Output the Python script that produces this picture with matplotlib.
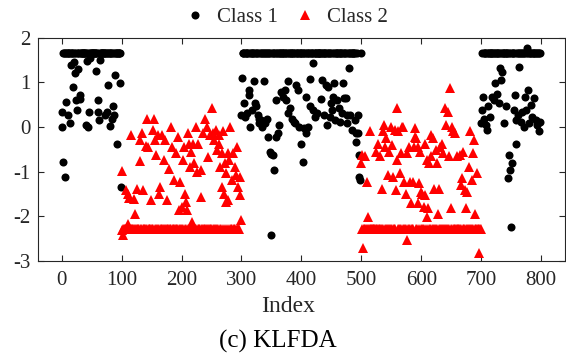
import numpy as np
import matplotlib
matplotlib.use('Agg')
import matplotlib.pyplot as plt

plt.rcParams['font.family'] = ['Liberation Serif', 'DejaVu Serif']
plt.rcParams['axes.unicode_minus'] = False

# index ranges that belong to each class
class1_ranges = [(0, 100), (300, 500), (700, 800)]
class2_ranges = [(100, 300), (500, 700)]
# value where most points of a class pile up
class1_level = 1.65
class2_level = -2.28

# points that lie off the plateau
class1_idx = [0, 1, 2, 5, 7, 10, 14, 16, 19, 21, 22, 24, 26, 28, 30, 31, 40, 43, 44, 46,
              47, 57, 60, 61, 62, 64, 73, 76, 78, 81, 84, 86, 87, 89, 92, 98, 99,
              300, 301, 304, 306, 309, 312, 313, 315, 318, 321, 322, 325, 327, 329, 330, 333,
              335, 337, 339, 342, 345, 347, 349, 350, 352, 355, 357, 358, 361, 363, 366, 369,
              372, 375, 377, 378, 381, 384, 387, 390, 391, 395, 396, 399, 402, 404, 407, 408,
              411, 414, 415, 419, 420, 423, 426, 432, 435, 437, 441, 443, 445, 447, 449, 451,
              453, 455, 456, 459, 462, 465, 468, 470, 471, 474, 476, 477, 479, 482, 485, 489,
              491, 492, 494, 495, 496, 497, 498,
              700, 701, 703, 705, 708, 709, 712, 715, 718, 721, 724, 726, 730, 732, 734, 735,
              739, 742, 745, 746, 748, 750, 751, 755, 757, 758, 759, 762, 764, 767, 769, 771,
              773, 775, 776, 779, 780, 783, 785, 788, 791, 794, 796, 798]
class1_val = [0.0, 0.34, -0.79, -1.11, 0.55, 0.27, 0.1, 1.39, 0.9, 1.46, 1.2, 0.6, 0.38, 1.31,
              0.62, 0.72, 0.05, 1.48, -0.01, 0.34, 1.54, 1.26, 0.6, 0.34, 0.16, 1.5, 0.27, 0.33,
              0.94, 0.02, 0.19, 0.46, 0.27, 1.17, -0.37, 0.98, -1.35,
              0.27, 1.09, 0.53, 0.23, 0.31, 0.72, 0.83, 0.0, 0.38, 1.02, 0.53, 0.46, 0.27, 0.19,
              0.08, 0.16, 0.0, 1.02, 0.08, 0.19, -0.22, -0.55, -0.6, -2.42, -0.63, -0.96, 0.61,
              -0.22, -0.14, 0.04, 0.79, 0.68, 0.83, 0.61, 1.02, 0.31, 0.42, 0.19, 0.12, 0.08,
              0.94, 0.83, 0.0, -0.37, -0.78, -0.03, -0.14, 0.68, 0.0, 1.08, 0.47, 1.44, 0.38,
              0.23, 0.31, 0.63, 1.05, 0.27, 0.94, 0.04, 0.9, 0.23, 0.53, 0.38, 0.68, 0.98, 0.16,
              0.61, 0.42, 0.12, 0.31, 0.98, 0.64, 0.64, 0.27, 0.08, 1.32, 0.27, -0.07, 0.16,
              -0.14, -0.33, 0.27, -0.14, -0.63, -1.11, -1.19,
              0.08, 0.38, 0.68, 0.19, 0.04, -0.07, 0.46, 0.23, 0.68, 0.61, 0.98, 0.75, 0.53,
              1.32, 1.05, 1.24, 0.08, 0.46, -1.15, -0.63, -0.96, -2.24, -0.81, 0.38, 0.72,
              -0.37, 0.16, 0.27, 1.35, 0.12, 0.34, 0.0, 0.68, 0.38, 1.76, 0.83, 0.08, 0.49,
              0.23, 0.64, 0.16, 0.04, -0.1, 0.12]

class2_idx = [100, 101, 102, 107, 110, 111, 113, 116, 120, 122, 125, 130, 131, 134, 136, 140,
              142, 144, 149, 152, 154, 156, 158, 161, 162, 164, 167, 170, 173, 176, 179, 182,
              184, 188, 191, 194, 196, 198, 200, 203, 204, 206, 208, 209, 210, 212, 214, 216,
              218, 220, 221, 224, 226, 228, 232, 233, 236, 239, 242, 245, 247, 251, 252, 255,
              257, 259, 262, 263, 265, 267, 268, 270, 271, 273, 274, 275, 277, 278, 280, 281,
              284, 286, 289, 291, 293, 295, 297, 298, 299,
              500, 501, 503, 506, 510, 511, 515, 525, 528, 532, 535, 536, 538, 540, 542, 545,
              547, 550, 552, 553, 556, 558, 559, 560, 562, 564, 566, 568, 570, 572, 574, 576,
              577, 580, 582, 583, 586, 588, 589, 590, 592, 594, 595, 597, 598, 600, 602, 604,
              606, 607, 609, 610, 612, 613, 616, 617, 619, 622, 624, 626, 628, 630, 632, 634,
              637, 640, 642, 644, 646, 648, 649, 651, 653, 656, 659, 664, 666, 668, 670, 673,
              674, 676, 679, 682, 684, 687, 688, 690, 693, 696]
class2_val = [-0.98, -2.3, -2.42, -1.41, -1.49, -2.17, -1.6, -0.18, -1.61, -1.94, -1.39, -0.76,
              -0.29, -0.14, -1.4, -0.43, 0.19, -0.44, -1.64, -0.07, 0.19, -0.29, -0.63, -0.18,
              -1.49, -1.34, -0.18, -0.74, -0.29, -1.64, -0.93, 0.0, -0.44, -1.19, -0.59, -0.22,
              -1.86, -1.23, -1.79, -0.74, -0.44, -1.49, -1.67, -1.86, -0.14, -0.37, -0.89, -0.55,
              -2.12, -0.37, -0.81, 0.0, -1.0, -0.37, -0.96, -1.56, -0.14, 0.19, 0.0, -0.67,
              -0.18, 0.42, -0.14, -0.29, -0.07, -0.52, -0.18, -0.37, -0.89, -0.59, -1.34, -0.1,
              -1.49, -0.81, -1.67, -1.04, -0.59, -1.64, -0.74, 0.0, -1.19, -0.59, -0.89, -1.08,
              -0.44, -1.34, -1.52, -1.11, -2.09,
              -0.81, -0.63, -2.7, -0.66, -1.23, -2.01, -0.1, -0.55, -0.37, -0.65, -1.38, -0.1,
              0.04, -0.44, -0.25, -1.08, -0.55, 0.0, -0.4, -1.11, -0.07, -1.41, 0.42, -0.74,
              -0.1, -1.04, -0.59, 0.0, 0.0, -1.23, -1.49, -2.53, -0.59, -0.44, -1.23, -1.71,
              -1.23, -0.44, -0.22, -0.03, -0.25, -0.44, -1.71, -1.26, -0.55, -1.45, -1.49, -1.79,
              -1.52, -0.37, -0.74, -2.01, -1.82, -0.81, -0.18, -0.66, -0.25, -1.38, -0.52, -0.81,
              -1.94, -1.38, -0.44, -0.37, -0.59, 0.42, 0.04, 0.34, -0.66, 0.87, -1.82, 0.0,
              -0.1, -0.14, -0.66, -0.63, -1.3, -1.15, -0.55, -1.41, -1.82, -1.45, -0.89, -0.1,
              -1.19, -0.59, -0.29, -1.94, -1.04, -2.83]


def build_class(ranges, level, idx, val):
    # every index of the class that is not listed off-plateau sits on the plateau
    off = set(idx)
    xs, ys = [], []
    for start, stop in ranges:
        for i in range(start, stop):
            if i not in off:
                xs.append(i)
                ys.append(level)
    xs += list(idx)
    ys += list(val)
    return np.array(xs), np.array(ys)


x1, y1 = build_class(class1_ranges, class1_level, class1_idx, class1_val)
x2, y2 = build_class(class2_ranges, class2_level, class2_idx, class2_val)

W, H = 566, 356
fig = plt.figure(figsize=(W / 100, H / 100), dpi=100)
ax = fig.add_axes([37.7 / W, 1 - 261 / H, (565 - 37.7) / W, (261 - 37.7) / H])

ax.plot(x1, y1, 'o', color='black', markersize=5.8, markeredgewidth=0, label='Class 1')
ax.plot(x2, y2, '^', color='red', markersize=6.8, markeredgewidth=0, label='Class 2')

ax.set_xlim(-40, 840)
ax.set_ylim(-3, 2)
ax.set_xticks(range(0, 801, 100))
ax.set_yticks(range(-3, 3))

axis_col = '#262626'
for sp in ax.spines.values():
    sp.set_color(axis_col)
    sp.set_linewidth(0.8)
ax.tick_params(direction='in', top=True, right=True, length=4, width=0.8,
               color=axis_col, labelcolor=axis_col, labelsize=15)
ax.tick_params(axis='x', pad=7)
ax.tick_params(axis='y', pad=5)

ax.set_xlabel('Index', fontsize=17, color=axis_col)
ax.xaxis.set_label_coords((288 - 37.7) / (565 - 37.7), (261 - 306) / (261 - 37.7))
ax.xaxis.label.set_va('center')

fig.legend(loc='center', bbox_to_anchor=(286 / W, 1 - 17 / H), ncol=2, frameon=False,
           fontsize=15, handlelength=1.0, handletextpad=0.56, columnspacing=0.8,
           borderpad=0, labelcolor=axis_col)

fig.text(278 / W, 1 - 341 / H, '(c) KLFDA', ha='center', va='center', fontsize=18,
         color='black')

fig.savefig('out.png', dpi=100)
